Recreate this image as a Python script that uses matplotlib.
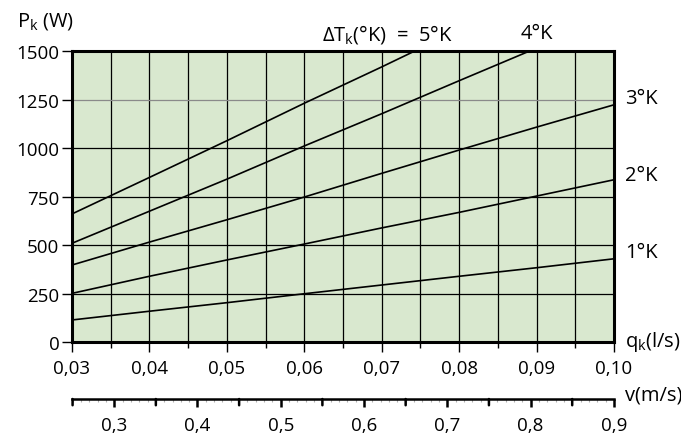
import matplotlib
matplotlib.use("Agg")
import matplotlib.pyplot as plt
from matplotlib.ticker import MultipleLocator, FuncFormatter

plt.rcParams['font.family'] = ['Open Sans', 'DejaVu Sans']
plt.rcParams['font.size'] = 13.5

# flow rate q_k (l/s) and heat output P_k (W) per temperature difference
q = [0.03, 0.04, 0.05, 0.06, 0.07, 0.08, 0.09, 0.10]
p_1k = [115, 160, 204, 250, 295, 340, 384, 430]
p_2k = [252, 340, 424, 506, 589, 669, 753, 837]
p_3k = [398, 516, 631, 748, 870, 990, 1108, 1223]
p_4k = [510, 675, 840, 1011, 1177, 1347, 1515, 1680]
p_5k = [661, 849, 1038, 1231, 1418, 1610, 1800, 1990]
curves = [p_1k, p_2k, p_3k, p_4k, p_5k]

y_ticks = [0, 250, 500, 750, 1000, 1250, 1500]
v_range = (0.2493, 0.9002)
v_mid_ticks = [0.25, 0.35, 0.45, 0.55, 0.65, 0.75, 0.85]

W, H = 681, 435
fig = plt.figure(figsize=(W / 100, H / 100), dpi=100)
ax = fig.add_axes([72 / W, 1 - 343.3 / H, 542 / W, 291.3 / H])
ax.set_facecolor('#d9e8cf')

for p in curves:
    ax.plot(q, p, color='black', lw=1.2, zorder=3)

ax.set_xlim(0.03, 0.10)
ax.set_ylim(0, 1500)
ax.xaxis.set_major_locator(MultipleLocator(0.01))
ax.xaxis.set_minor_locator(MultipleLocator(0.005))
ax.set_yticks(y_ticks)
ax.xaxis.set_major_formatter(FuncFormatter(lambda x, pos: f"{x:.2f}".replace('.', ',')))

ax.grid(True, which='both', axis='x', color='black', lw=0.9, zorder=1)
ax.grid(True, which='major', axis='y', color='black', lw=0.9, zorder=1)
ax.set_axisbelow(True)
ax.yaxis.get_gridlines()[5].set_color('#8a8a8a')

for s in ax.spines.values():
    s.set_linewidth(2.2)
ax.tick_params(axis='x', which='major', length=7, width=1.0, pad=5)
ax.tick_params(axis='x', which='minor', length=4, width=1.0)
ax.tick_params(axis='y', length=7, width=1.0, pad=2)
ax.get_yticklines()[10].set_color('#8a8a8a')

# velocity scale under the main axis
ax2 = fig.add_axes([72 / W, 1 - 400 / H, 542 / W, 0.0001])
ax2.set_xlim(*v_range)
ax2.set_yticks([])
for side in ['top', 'left', 'right']:
    ax2.spines[side].set_visible(False)
ax2.spines['bottom'].set_linewidth(1.8)
ax2.patch.set_visible(False)
ax2.xaxis.set_major_locator(MultipleLocator(0.1))
ax2.xaxis.set_minor_locator(MultipleLocator(0.01))
ax2.xaxis.set_major_formatter(FuncFormatter(lambda x, pos: f"{x:.1f}".replace('.', ',')))
ax2.tick_params(axis='x', which='major', length=6, width=1.8, pad=6)
ax2.tick_params(axis='x', which='minor', length=2, width=0.8, color='#b0b0b0')
for v in v_mid_ticks:
    ax2.annotate('', xy=(v, 0), xycoords=ax2.get_xaxis_transform(),
                 xytext=(0, -4.5), textcoords='offset points',
                 arrowprops=dict(arrowstyle='-', lw=1.8, color='black',
                                 shrinkA=0, shrinkB=0), annotation_clip=False)


def ftxt(x, y, s, **kw):
    fig.text(x / W, 1 - y / H, s, va='center', fontsize=14.5, **kw)


ftxt(17, 22, r'P$_\mathregular{k}$ (W)')
ftxt(387, 34, r'ΔT$_\mathregular{k}$(°K)  =  5°K', ha='center')
ftxt(537, 34, '4°K', ha='center')
ftxt(625, 99, '3°K')
ftxt(625, 176, '2°K')
ftxt(625, 253, '1°K')
ftxt(625, 342, r'q$_\mathregular{k}$(l/s)')
ftxt(625, 396, 'v(m/s)')

fig.savefig('out.png', dpi=100)
